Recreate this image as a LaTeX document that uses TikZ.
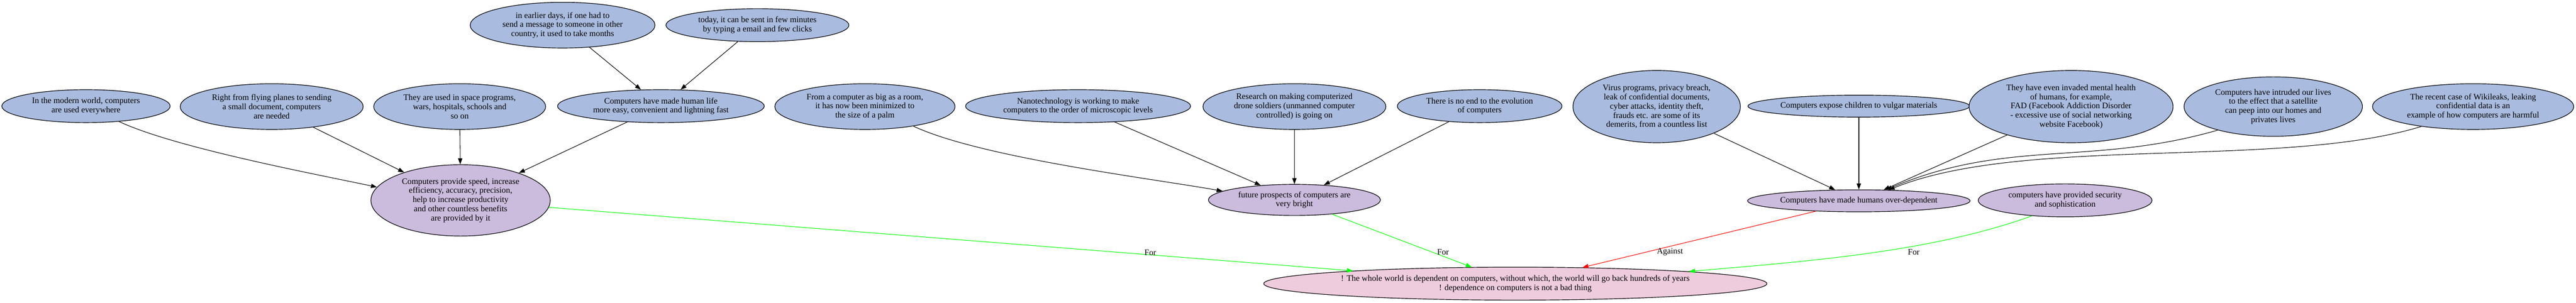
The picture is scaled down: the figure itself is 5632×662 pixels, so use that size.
\documentclass[tikz,border=0pt]{standalone}
\usepackage{fontspec}
\setmainfont{Liberation Serif}
\usetikzlibrary{shapes.geometric,arrows.meta}
\definecolor{cblue}{RGB}{169,187,222}
\definecolor{cpurp}{RGB}{203,187,221}
\definecolor{cpink}{RGB}{238,204,221}
\definecolor{cgreen}{RGB}{0,255,0}
\definecolor{cred}{RGB}{255,0,0}
\newcommand\nodefont{\fontsize{13.76pt}{15pt}\selectfont}
\tikzset{
 ell/.style={ellipse, draw=black, line width=1pt, inner sep=0pt, align=center, font=\nodefont},
 sz/.style 2 args={minimum width=#1*1.5pt, minimum height=#2*1.5pt},
 bnode/.style 2 args={ell, fill=cblue, sz={#1}{#2}},
 pnode/.style 2 args={ell, fill=cpurp, sz={#1}{#2}},
 knode/.style 2 args={ell, fill=cpink, sz={#1}{#2}},
 arr/.style={-{Triangle[length=9.8pt,width=7pt]}, line width=0.9pt},
 foredge/.style={arr, draw=cgreen},
 agedge/.style={arr, draw=cred},
 lbl/.style={font=\nodefont, inner sep=1pt}
}
\begin{document}
\begin{tikzpicture}[x=0.75pt, y=0.75pt]
\fill[white] (0,0) rectangle (5632,662);
\useasboundingbox (0,0) rectangle (5632,662);

% top row
\node[bnode={202}{50}] (earlier) at (1230,607) {in earlier days, if one had to\\send a message to someone in other\\country, it used to take months};
\node[bnode={200}{36}] (today) at (1656,607) {today, it can be sent in few minutes\\by typing a email and few clicks};

% middle row
\node[bnode={184}{36}] (modern) at (188,430) {In the modern world, computers\\are used everywhere};
\node[bnode={200}{50}] (flying) at (594,429) {Right from flying planes to sending\\a small document, computers\\are needed};
\node[bnode={188}{50}] (space) at (1005,429) {They are used in space programs,\\wars, hospitals, schools and\\so on};
\node[bnode={226}{36}] (life) at (1445,430) {Computers have made human life\\more easy, convenient and lightning fast};
\node[bnode={197}{50}] (fromc) at (1891,429) {From a computer as big as a room,\\it has now been minimized to\\the size of a palm};
\node[bnode={246}{36}] (nano) at (2357,430) {Nanotechnology is working to make\\computers to the order of microscopic levels};
\node[bnode={200}{50}] (research) at (2830,429) {Research on making computerized\\drone soldiers (unmanned computer\\controlled) is going on};
\node[bnode={180}{36}] (noend) at (3235,430) {There is no end to the evolution\\of computers};
\node[bnode={183}{79}] (virus) at (3622,429) {Virus programs, privacy breach,\\leak of confidential documents,\\cyber attacks, identity theft,\\frauds etc. are some of its\\demerits, from a countless list};
\node[bnode={236}{24}] (expose) at (4064,430) {Computers expose children to vulgar materials};
\node[bnode={223}{79}] (invaded) at (4528,429) {They have even invaded mental health\\of humans, for example,\\FAD (Facebook Addiction Disorder\\- excessive use of social networking\\website Facebook)};
\node[bnode={195}{65}] (intruded) at (4970,429) {Computers have intruded our lives\\to the effect that a satellite\\can peep into our homes and\\privates lives};
\node[bnode={220}{50}] (wiki) at (5407,429) {The recent case of Wikileaks, leaking\\confidential data is an\\example of how computers are harmful};

% lower row
\node[pnode={196}{78}] (speed) at (1007,224) {Computers provide speed, increase\\efficiency, accuracy, precision,\\help to increase productivity\\and other countless benefits\\are provided by it};
\node[pnode={188}{34}] (future) at (2830,225) {future prospects of computers are\\very bright};
\node[pnode={236}{24}] (overdep) at (4064,223) {Computers have made humans over-dependent};
\node[pnode={190}{36}] (security) at (4515,224) {computers have provided security\\and sophistication};

% bottom
\node[knode={550}{36}] (bottom) at (3313,42) {! The whole world is dependent on computers, without which, the world will go back hundreds of years\\! dependence on computers is not a bad thing};

% black edges
\draw[arr] (modern.-25) to[out=-25,in=168,looseness=0.6] (speed.171);
\draw[arr] (flying) -- (speed);
\draw[arr] (space) -- (speed);
\draw[arr] (life) -- (speed);
\draw[arr] (earlier) -- (life);
\draw[arr] (today) -- (life);
\draw[arr] (fromc.-22) to[out=-25,in=170,looseness=0.6] (future.173);
\draw[arr] (nano) -- (future);
\draw[arr] (research) -- (future);
\draw[arr] (noend) -- (future);
\draw[arr] (virus) -- (overdep);
\draw[arr] (expose) -- (overdep);
\draw[arr] (invaded) -- (overdep);
\draw[arr] (intruded.203) to[out=196,in=23] (overdep.22);
\draw[arr] (wiki.201) to[out=197,in=22,looseness=0.7] (overdep.20);

% coloured edges
\draw[foredge] (speed) -- (bottom);
\draw[foredge] (future) -- (bottom);
\draw[agedge] (overdep) -- (bottom);
\draw[foredge] (security.205) to[out=200,in=5,looseness=0.8] (bottom.4.25);

% edge labels
\node[lbl] (l1) at (2515,110) {For};
\node[lbl] (l2) at (3155,111) {For};
\node[lbl] (l3) at (3651,111) {Against};
\node[lbl] (l4) at (4184,111) {For};
\end{tikzpicture}
\end{document}
